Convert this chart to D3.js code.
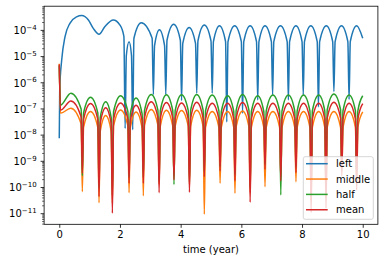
<!DOCTYPE html>
<html>
<head>
<meta charset="utf-8">
<script src="https://cdn.jsdelivr.net/npm/d3@7/dist/d3.min.js"></script>
<style>
body {margin:0; background:#fff;}
svg {display:block; font-family:"DejaVu Sans", sans-serif; font-size:10px;}
</style>
</head>
<body>
<svg id="graph1"></svg>
<script>
var seriesNames = ["left", "middle", "half", "mean"]
var seriesColors = ["#1f77b4", "#ff7f0e", "#2ca02c", "#d62728"]

var xTicks = [0, 2, 4, 6, 8, 10]
var yTicks = [1e-11, 1e-10, 1e-9, 1e-8, 1e-7, 1e-6, 1e-5, 1e-4]

// time points for the "left" curve
var tLeft = [0, 0.015, 0.08, 0.19, 0.35, 0.57, 0.74, 0.96, 1.12, 1.31,
    1.5, 1.78, 2.0, 2.13, 2.17, 2.21, 2.3, 2.38, 2.42, 2.46,
    2.7, 3.06, 3.1, 3.14, 3.3, 3.47, 3.51, 3.55, 3.77, 3.99,
    4.03, 4.07, 4.28, 4.49, 4.53, 4.57, 4.78, 5.0, 5.04, 5.08,
    5.28, 5.48, 5.52, 5.56, 5.78, 6.0, 6.04, 6.08, 6.29, 6.5,
    6.54, 6.58, 6.78, 6.99, 7.03, 7.07, 7.29, 7.51, 7.55, 7.59,
    7.8, 8.0, 8.04, 8.08, 8.29, 8.5, 8.54, 8.58, 8.8, 9.01,
    9.05, 9.09, 9.3, 9.51, 9.55, 9.59, 9.8, 10.0]

var left = [7.6e-9, 6e-7, 7.4e-6, 5.8e-5, 1.86e-4, 3.3e-4, 3.7e-4, 2.5e-4, 1.2e-4, 7.1e-5,
    1.38e-4, 2.5e-4, 1.6e-4, 5.8e-5, 1.8e-8, 1.1e-5, 3.7e-5, 1.1e-5, 1.6e-8, 5.0e-5,
    1.95e-4, 5.0e-5, 3.6e-7, 2.6e-5, 1.05e-4, 2.6e-5, 3.6e-7, 4.2e-5, 1.7e-4, 4.2e-5,
    2.1e-7, 3.2e-5, 1.3e-4, 3.2e-5, 4.0e-7, 4.0e-5, 1.6e-4, 4.0e-5, 4.0e-7, 3.7e-5,
    1.5e-4, 3.7e-5, 3.2e-8, 3.7e-5, 1.5e-4, 3.7e-5, 6.8e-8, 3.7e-5, 1.5e-4, 3.7e-5,
    2.2e-7, 3.7e-5, 1.5e-4, 3.7e-5, 3.4e-7, 3.7e-5, 1.5e-4, 3.7e-5, 2.2e-7, 3.7e-5,
    1.5e-4, 3.7e-5, 3.4e-7, 3.7e-5, 1.5e-4, 3.7e-5, 1.2e-7, 3.7e-5, 1.5e-4, 3.7e-5,
    4.6e-7, 3.7e-5, 1.5e-4, 3.7e-5, 2.3e-7, 3.7e-5, 1.5e-4, 5.0e-5]

// time points shared by middle / half / mean
var tLow = [0, 0.04, 0.38, 0.72, 0.76,
    0.8, 1.03, 1.27, 1.31,   1.35, 1.53, 1.71, 1.75,   1.79, 2.02, 2.26, 2.3,
    2.34, 2.53, 2.73, 2.77,  2.81, 3.03, 3.25, 3.29,   3.33, 3.53, 3.74, 3.78,
    3.82, 4.03, 4.25, 4.29,  4.33, 4.53, 4.74, 4.78,   4.82, 5.04, 5.26, 5.3,
    5.34, 5.55, 5.75, 5.79,  5.83, 6.04, 6.25, 6.29,   6.33, 6.54, 6.74, 6.78,
    6.82, 7.04, 7.26, 7.3,   7.34, 7.55, 7.76, 7.8,    7.84, 8.05, 8.26, 8.3,
    8.34, 8.55, 8.75, 8.79,  8.83, 9.05, 9.27, 9.31,   9.35, 9.55, 9.76, 9.8,
    9.84, 10.0]

var middle = [5.3e-6, 6.8e-8, 1.07e-7, 2.7e-8, 6.9e-11,
    2.0e-8, 8.0e-8, 2.0e-8, 2.6e-11,   1.4e-8, 5.6e-8, 1.4e-8, 2.5e-11,   2.3e-8, 9.1e-8, 2.3e-8, 6.3e-11,
    1.9e-8, 7.6e-8, 1.9e-8, 4.8e-11,   2.4e-8, 9.5e-8, 2.4e-8, 1.3e-10,   2.2e-8, 8.9e-8, 2.2e-8, 2.5e-10,
    2.2e-8, 8.7e-8, 2.2e-8, 1.3e-10,   2.2e-8, 8.9e-8, 2.2e-8, 9.5e-12,   2.0e-8, 8.0e-8, 2.0e-8, 1.45e-10,
    2.0e-8, 8.0e-8, 2.0e-8, 6.0e-11,   2.1e-8, 8.3e-8, 2.1e-8, 6.3e-11,   2.0e-8, 8.0e-8, 2.0e-8, 1.07e-10,
    2.0e-8, 8.0e-8, 2.0e-8, 2.5e-10,   2.0e-8, 8.0e-8, 2.0e-8, 1.66e-10,  2.0e-8, 8.0e-8, 2.0e-8, 3.2e-11,
    2.0e-8, 8.0e-8, 2.0e-8, 4.0e-11,   2.0e-8, 8.0e-8, 2.0e-8, 4.0e-10,   2.0e-8, 8.0e-8, 2.0e-8, 1.26e-10,
    2.0e-8, 7.8e-8]

var half = [4.5e-6, 1.4e-7, 4.0e-7, 1.0e-7, 2.8e-10,
    7.0e-8, 2.8e-7, 7.0e-8, 1.0e-10,   4.8e-8, 1.9e-7, 4.8e-8, 5.0e-11,   8.0e-8, 3.2e-7, 8.0e-8, 2.5e-10,
    6.5e-8, 2.6e-7, 6.5e-8, 2.5e-10,   9.0e-8, 3.6e-7, 9.0e-8, 1.6e-10,   8.7e-8, 3.5e-7, 8.7e-8, 1.3e-10,
    8.7e-8, 3.5e-7, 8.7e-8, 1.6e-10,   9.0e-8, 3.6e-7, 9.0e-8, 4.0e-10,   8.5e-8, 3.4e-7, 8.5e-8, 6.3e-10,
    8.0e-8, 3.2e-7, 8.0e-8, 3.2e-10,   9.0e-8, 3.6e-7, 9.0e-8, 1.0e-10,   8.0e-8, 3.2e-7, 8.0e-8, 7.9e-10,
    8.5e-8, 3.4e-7, 8.5e-8, 5.2e-11,   8.5e-8, 3.4e-7, 8.5e-8, 6.3e-10,   8.5e-8, 3.4e-7, 8.5e-8, 5.0e-11,
    8.5e-8, 3.4e-7, 8.5e-8, 6.3e-11,   9.3e-8, 3.7e-7, 9.3e-8, 5.0e-10,   8.5e-8, 3.4e-7, 8.5e-8, 2.0e-10,
    8.5e-8, 3.2e-7]

var mean = [5.0e-6, 9.0e-8, 2.0e-7, 5.0e-8, 3.5e-10,
    4.0e-8, 1.6e-7, 4.0e-8, 4.5e-11,   2.8e-8, 1.1e-7, 2.8e-8, 1.05e-11,  4.2e-8, 1.7e-7, 4.2e-8, 1.45e-10,
    3.5e-8, 1.4e-7, 3.5e-8, 1.45e-10,  4.8e-8, 1.9e-7, 4.8e-8, 6.3e-11,   4.4e-8, 1.75e-7, 4.4e-8, 1.95e-10,
    4.2e-8, 1.7e-7, 4.2e-8, 6.6e-11,   4.5e-8, 1.8e-7, 4.5e-8, 2.6e-10,   4.1e-8, 1.65e-7, 4.1e-8, 4.3e-10,
    4.1e-8, 1.65e-7, 4.1e-8, 1.8e-10,  4.4e-8, 1.75e-7, 4.4e-8, 2.75e-11, 4.1e-8, 1.65e-7, 4.1e-8, 5.0e-10,
    4.1e-8, 1.65e-7, 4.1e-8, 1.8e-10,  4.1e-8, 1.65e-7, 4.1e-8, 3.7e-10,  4.1e-8, 1.65e-7, 4.1e-8, 1.1e-11,
    4.1e-8, 1.65e-7, 4.1e-8, 1.6e-11,  4.5e-8, 1.8e-7, 4.5e-8, 2.8e-10,   4.1e-8, 1.65e-7, 4.1e-8, 8.0e-11,
    4.1e-8, 1.6e-7]


var initGraph = function()
{
    var screen = {width: 385, height: 262}
    var margins = {left: 44.1, top: 6.2, right: 7.1, bottom: 37.7}
    var graph =
        {
            width: screen.width - margins.left - margins.right,
            height: screen.height - margins.top - margins.bottom
        }

    var svg = d3.select("#graph1")
        .attr("width", screen.width)
        .attr("height", screen.height)

    var xScale = d3.scaleLinear()
        .domain([-0.5, 10.5])
        .range([0, graph.width])

    var yScale = d3.scaleLog()
        .domain([Math.pow(10, -11.405), Math.pow(10, -3.076)])
        .range([graph.height, 0])

    svg.append("defs").append("clipPath")
        .attr("id", "plotclip")
        .append("rect")
        .attr("width", graph.width)
        .attr("height", graph.height)

    var target = svg.append("g")
        .attr("transform", "translate(" + margins.left + "," + margins.top + ")")

    var series = [
        {name: "left", t: tLeft, v: left},
        {name: "middle", t: tLow, v: middle},
        {name: "half", t: tLow, v: half},
        {name: "mean", t: tLow, v: mean}
    ]

    drawLines(series, target, xScale, yScale)
    drawAxis(target, graph, xScale, yScale)
    drawLabels(svg, graph, margins)
    drawLegend(svg)
}

var drawLines = function(series, target, xScale, yScale)
{
    var line = d3.line()
        .x(function(d) { return xScale(d[0]) })
        .y(function(d) { return yScale(d[1]) })
        .curve(d3.curveMonotoneX)

    target.append("g")
        .attr("clip-path", "url(#plotclip)")
        .selectAll("path")
        .data(series)
        .enter()
        .append("path")
        .attr("fill", "none")
        .attr("stroke", function(s, i) { return seriesColors[i] })
        .attr("stroke-width", 1.5)
        .attr("stroke-linejoin", "round")
        .attr("d", function(s)
              {
                  return line(s.t.map(function(t, i) { return [t, s.v[i]] }))
              })
}

var drawAxis = function(target, graph, xScale, yScale)
{
    var xAxis = d3.axisBottom(xScale)
        .tickValues(xTicks)
        .tickSize(3.5)
        .tickPadding(3.5)
        .tickFormat(d3.format("d"))

    var gx = target.append("g")
        .attr("transform", "translate(0," + graph.height + ")")
        .call(xAxis)
    gx.select(".domain").remove()
    gx.selectAll("line").attr("stroke", "#000").attr("stroke-width", 0.8)
    gx.selectAll("text")
        .attr("fill", "#000")
        .attr("font-size", "10px")
        .attr("font-family", "DejaVu Sans")

    // minor ticks of the log axis
    var minor = []
    for (var e = -12; e <= -4; e++)
    {
        for (var m = 2; m <= 9; m++)
        {
            var val = m * Math.pow(10, e)
            if (val >= yScale.domain()[0] && val <= yScale.domain()[1]) minor.push(val)
        }
    }
    target.append("g")
        .selectAll("line")
        .data(minor)
        .enter()
        .append("line")
        .attr("x1", -2).attr("x2", 0)
        .attr("y1", function(d) { return yScale(d) })
        .attr("y2", function(d) { return yScale(d) })
        .attr("stroke", "#000")
        .attr("stroke-width", 0.6)

    var gy = target.append("g")
    gy.selectAll("line")
        .data(yTicks)
        .enter()
        .append("line")
        .attr("x1", -3.5).attr("x2", 0)
        .attr("y1", function(d) { return yScale(d) })
        .attr("y2", function(d) { return yScale(d) })
        .attr("stroke", "#000")
        .attr("stroke-width", 0.8)

    var labels = gy.selectAll("text")
        .data(yTicks)
        .enter()
        .append("text")
        .attr("text-anchor", "end")
        .attr("x", -7.5)
        .attr("y", function(d) { return yScale(d) + 3.8 })
    labels.append("tspan").text("10")
    labels.append("tspan")
        .attr("dy", -4.6)
        .attr("font-size", "7px")
        .text(function(d) { return "\u2212" + Math.round(-Math.log10(d)) })

    target.append("rect")
        .attr("width", graph.width)
        .attr("height", graph.height)
        .attr("fill", "none")
        .attr("stroke", "#000")
        .attr("stroke-width", 0.8)
}

var drawLabels = function(svg, graph, margins)
{
    svg.append("text")
        .text("time (year)")
        .attr("text-anchor", "middle")
        .attr("x", margins.left + graph.width / 2)
        .attr("y", 253)
}

var drawLegend = function(svg)
{
    var legend = svg.append("g")

    legend.append("rect")
        .attr("x", 303.3)
        .attr("y", 156.7)
        .attr("width", 70)
        .attr("height", 62.6)
        .attr("rx", 2)
        .attr("fill", "#fff")
        .attr("fill-opacity", 0.8)
        .attr("stroke", "#cccccc")
        .attr("stroke-width", 0.8)

    var rows = legend.selectAll("g.row")
        .data(seriesNames)
        .enter()
        .append("g")
        .attr("class", "row")
        .attr("transform", function(d, i) { return "translate(306," + (163.7 + i * 15.35) + ")" })

    rows.append("line")
        .attr("x1", 0).attr("x2", 21.7)
        .attr("stroke", function(d, i) { return seriesColors[i] })
        .attr("stroke-width", 1.5)

    rows.append("text")
        .text(function(d) { return d })
        .attr("x", 30)
        .attr("y", 3.6)
}

initGraph()
</script>
</body>
</html>
